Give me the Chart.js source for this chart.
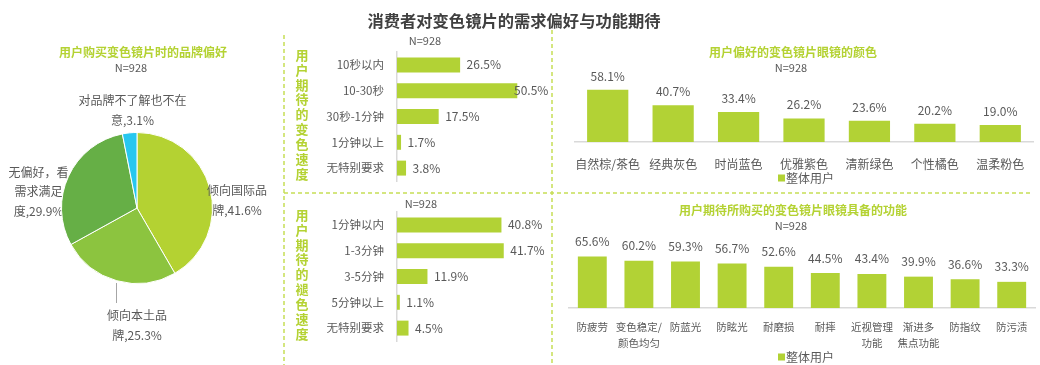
<!DOCTYPE html>
<html>
<head>
<meta charset="utf-8">
<script src="https://cdn.jsdelivr.net/npm/chart.js@4.4.1/dist/chart.umd.min.js"></script>
<style>
html,body{margin:0;padding:0;background:#fff;}
#wrap{position:relative;width:1040px;height:365px;overflow:hidden;background:#fff;}
#wrap canvas{position:absolute;left:0;top:0;}
</style>
</head>
<body>
<div id="wrap">
<canvas id="c1" width="1040" height="365"></canvas>
<canvas id="c2" width="1040" height="365"></canvas>
<canvas id="c3" width="1040" height="365"></canvas>
<canvas id="c4" width="1040" height="365"></canvas>
<canvas id="c5" width="1040" height="365"></canvas>
</div>
<script>
// ---------- DATA ----------
const mainTitle = '消费者对变色镜片的需求偏好与功能期待';
const sampleText = 'N=928';

const pieTitle = '用户购买变色镜片时的品牌偏好';
const pieLabels = ['倾向国际品牌', '倾向本土品牌', '无偏好，看需求满足度', '对品牌不了解也不在意'];
const pieValues = [41.6, 25.3, 29.9, 3.1];
const pieLabelLines = [
  ['倾向国际品', '牌,41.6%'],
  ['倾向本土品', '牌,25.3%'],
  ['无偏好，看', '需求满足', '度,29.9%'],
  ['对品牌不了解也不在', '意,3.1%']
];

const colorSpeedTitle = '用户期待的变色速度';
const colorSpeedLabels = ['10秒以内', '10-30秒', '30秒-1分钟', '1分钟以上', '无特别要求'];
const colorSpeedValues = [26.5, 50.5, 17.5, 1.7, 3.8];

const fadeSpeedTitle = '用户期待的褪色速度';
const fadeSpeedLabels = ['1分钟以内', '1-3分钟', '3-5分钟', '5分钟以上', '无特别要求'];
const fadeSpeedValues = [40.8, 41.7, 11.9, 1.1, 4.5];

const colorPrefTitle = '用户偏好的变色镜片眼镜的颜色';
const colorPrefLabels = ['自然棕/茶色', '经典灰色', '时尚蓝色', '优雅紫色', '清新绿色', '个性橘色', '温柔粉色'];
const colorPrefValues = [58.1, 40.7, 33.4, 26.2, 23.6, 20.2, 19.0];

const funcTitle = '用户期待所购买的变色镜片眼镜具备的功能';
const funcLabels = ['防疲劳', ['变色稳定/', '颜色均匀'], '防蓝光', '防眩光', '耐磨损', '耐摔', ['近视管理', '功能'], ['渐进多', '焦点功能'], '防指纹', '防污渍'];
const funcValues = [65.6, 60.2, 59.3, 56.7, 52.6, 44.5, 43.4, 39.9, 36.6, 33.3];

const seriesName = '整体用户';

// ---------- STYLE ----------
const FONT = '"Noto Sans CJK SC", "Microsoft YaHei", "Noto Sans", sans-serif';
const GREEN = '#b2d235';
const LIME_TEXT = '#b4d233';
const TEXT = '#595959';
const DASH = '#c6de55';
const AXIS = '#d9d9d9';
const pieColors = ['#b4d232', '#8cc43f', '#66af46', '#27c7ef'];

function txt(ctx, s, x, y, size, color, align, bold) {
  ctx.save();
  ctx.font = (bold ? 'bold ' : '') + size + 'px ' + FONT;
  ctx.fillStyle = color;
  ctx.textAlign = align || 'center';
  ctx.textBaseline = 'middle';
  ctx.fillText(s, x, y);
  ctx.restore();
}

const baseOpts = {responsive: false, animation: false, events: []};

const pieLabelPos = [[237, 190], [137, 315], [38.5, 172], [132.5, 100]];
function drawPieLabel(ctx, i) {
  const step = i === 2 ? 19.5 : 20.5;
  pieLabelLines[i].forEach((l, j) => txt(ctx, l, pieLabelPos[i][0], pieLabelPos[i][1] + j * step, 12, TEXT));
}

// ---------- PIE + decorations ----------
new Chart(document.getElementById('c1'), {
  type: 'pie',
  data: {labels: pieLabels, datasets: [{data: pieValues, backgroundColor: pieColors, borderColor: '#ffffff', borderWidth: 1}]},
  options: Object.assign({}, baseOpts, {
    layout: {padding: {left: 61, right: 1040 - 213, top: 132, bottom: 365 - 284}},
    plugins: {legend: {display: false}, tooltip: {enabled: false}}
  }),
  plugins: [{
    id: 'pieDeco',
    beforeDatasetsDraw(chart) {
      const ctx = chart.ctx;
      txt(ctx, mainTitle, 514, 21, 16.3, '#404040', 'center', true);
      txt(ctx, pieTitle, 143, 52, 12, LIME_TEXT, 'center', true);
      txt(ctx, sampleText, 131, 68, 11, TEXT);
      ctx.save();
      ctx.strokeStyle = DASH; ctx.lineWidth = 1.5; ctx.setLineDash([4, 3]);
      ctx.beginPath();
      ctx.moveTo(284, 35); ctx.lineTo(284, 365);
      ctx.moveTo(552, 30); ctx.lineTo(552, 365);
      ctx.moveTo(284, 193); ctx.lineTo(1032, 193);
      ctx.stroke();
      ctx.restore();
      // labels drawn under the pie
      drawPieLabel(ctx, 1);
      drawPieLabel(ctx, 2);
      drawPieLabel(ctx, 3);
      ctx.save();
      ctx.strokeStyle = '#a6a6a6'; ctx.lineWidth = 1;
      ctx.beginPath(); ctx.moveTo(116.5, 283); ctx.lineTo(116.5, 303); ctx.stroke();
      ctx.restore();
    },
    afterDatasetsDraw(chart) {
      drawPieLabel(chart.ctx, 0);
    }
  }]
});

// ---------- horizontal bar helper ----------
function hbar(id, labels, values, max, top, bottom, right, vTitle, nY, nX) {
  new Chart(document.getElementById(id), {
    type: 'bar',
    data: {labels: labels, datasets: [{data: values, backgroundColor: GREEN, categoryPercentage: 1, barPercentage: 0.58}]},
    options: Object.assign({}, baseOpts, {
      indexAxis: 'y',
      layout: {padding: {left: 300, right: 1040 - right, top: top, bottom: 365 - bottom}},
      plugins: {legend: {display: false}, tooltip: {enabled: false}},
      scales: {
        x: {display: false, min: 0, max: max},
        y: {
          afterFit(s) { s.width = 97; },
          grid: {display: false, drawTicks: false},
          border: {display: true, color: AXIS, width: 1.5},
          ticks: {padding: 13, color: TEXT, font: {size: 11.5, family: FONT}}
        }
      }
    }),
    plugins: [{
      id: 'hbarLabels',
      afterDatasetsDraw(chart) {
        const ctx = chart.ctx;
        const meta = chart.getDatasetMeta(0);
        meta.data.forEach((bar, i) => {
          const x = Math.min(bar.x + 6.5, chart.chartArea.right - 14);
          txt(ctx, values[i].toFixed(1) + '%', x, bar.y, 12, TEXT, 'left');
        });
        txt(ctx, sampleText, nX, nY, 11, TEXT);
        const chars = Array.from(vTitle);
        chars.forEach((c, i) => txt(ctx, c, 302, top + 3 + i * 14.85, 13, LIME_TEXT, 'center', true));
      }
    }]
  });
}

hbar('c2', colorSpeedLabels, colorSpeedValues, 55, 52, 181, 528, colorSpeedTitle, 41, 425);
hbar('c3', fadeSpeedLabels, fadeSpeedValues, 50, 212, 341, 525, fadeSpeedTitle, 204, 421);

// ---------- vertical bar helper ----------
function vbar(id, labels, values, left, right, top, bottom, barPct, fontSize, titleText, titleY, nY, legendY, labelGap, tickPad, axisH) {
  new Chart(document.getElementById(id), {
    type: 'bar',
    data: {labels: labels, datasets: [{label: seriesName, data: values, backgroundColor: GREEN, categoryPercentage: 1, barPercentage: barPct}]},
    options: Object.assign({}, baseOpts, {
      layout: {padding: {left: left, right: 1040 - right, top: top, bottom: 365 - bottom - axisH}},
      plugins: {legend: {display: false}, tooltip: {enabled: false}},
      scales: {
        y: {display: false, min: 0, max: 70},
        x: {
          afterFit(s) { s.height = axisH; },
          grid: {display: false, drawTicks: false},
          border: {display: true, color: AXIS, width: 1.5},
          ticks: {padding: tickPad, color: TEXT, autoSkip: false, maxRotation: 0, font: {size: fontSize, family: FONT, lineHeight: 1.5}}
        }
      }
    }),
    plugins: [{
      id: 'vbarLabels',
      afterDatasetsDraw(chart) {
        const ctx = chart.ctx;
        const meta = chart.getDatasetMeta(0);
        meta.data.forEach((bar, i) => {
          txt(ctx, values[i].toFixed(1) + '%', bar.x, bar.y - labelGap, 12, TEXT);
        });
        txt(ctx, titleText, 793, titleY, 12, LIME_TEXT, 'center', true);
        txt(ctx, sampleText, 791, nY, 11, TEXT);
        ctx.save();
        ctx.fillStyle = GREEN;
        ctx.fillRect(778, legendY - 3.5, 7, 7);
        ctx.restore();
        txt(ctx, seriesName, 786, legendY, 12, TEXT, 'left');
      }
    }]
  });
}

vbar('c4', colorPrefLabels, colorPrefValues, 575, 1033, 79, 142, 0.63, 12, colorPrefTitle, 52, 68, 178, 13.5, 13, 30);
vbar('c5', funcLabels, funcValues, 569, 1035, 253, 308, 0.62, 10.5, funcTitle, 210, 226, 357, 15, 11, 46);
</script>
</body>
</html>
